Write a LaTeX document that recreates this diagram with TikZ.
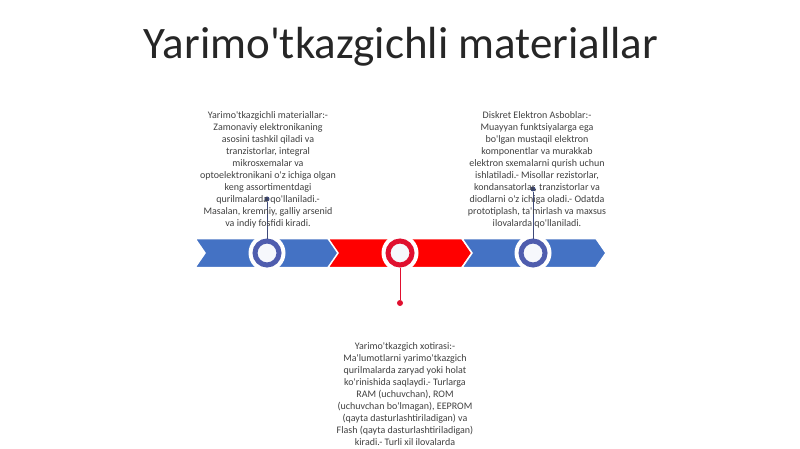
\documentclass[tikz,border=0pt]{standalone}
\usepackage{fontspec}
\newfontfamily\carlito{Carlito}
\definecolor{chevblue}{HTML}{4472C4}
\definecolor{ringblue}{HTML}{4F5DAE}
\definecolor{chevred}{HTML}{FF0000}
\definecolor{ringred}{HTML}{E0102F}
\definecolor{lineblue}{HTML}{3E4A7A}
\definecolor{txtgray}{HTML}{404040}
\begin{document}
\begin{tikzpicture}[x=1pt,y=-1pt,
    chevron/.style={draw=white, line width=1.5pt},
    halo/.style={circle, fill=white, minimum size=37pt, inner sep=0pt},
    ring/.style={circle, draw=#1, line width=5pt, fill=white!95!chevblue, minimum size=24pt, inner sep=0pt},
    pin/.style={line width=1pt, draw=#1},
    pindot/.style={circle, fill=#1, minimum size=6pt, inner sep=0pt},
    blurb/.style={align=center, text=txtgray, font=\carlito\fontsize{10}{12}\selectfont, inner sep=0pt}]
    \useasboundingbox (0,0) rectangle (800,449);
    % titel
    \node[text=black!85, font=\carlito\fontsize{45}{54}\selectfont] (titel) at (401,47) {Yarimo'tkazgichli materiallar};
    % pijlen
    \foreach \x/\col in {195/chevblue, 328/chevred, 462/chevblue}
        \draw[chevron, fill=\col] (\x,238.5) -- ++(134,0) -- ++(10,14.5) -- ++(-10,14.5) -- ++(-134,0) -- ++(10,-14.5) -- cycle;
    % cirkels
    \node[halo] (h1) at (267,253) {};
    \node[halo] (h2) at (400,253) {};
    \node[halo] (h3) at (533,253) {};
    \node[ring=ringblue] (c1) at (267,253) {};
    \node[ring=ringred] (c2) at (400,253) {};
    \node[ring=ringblue] (c3) at (533,253) {};
    % verbindingen
    \node[pindot=lineblue, minimum size=5pt] (d1) at (267,199) {};
    \node[pindot=lineblue, minimum size=5pt] (d3) at (533,189) {};
    \node[pindot=ringred] (d2) at (400,303) {};
    \draw[pin=lineblue] (c1.north) -- (d1);
    \draw[pin=lineblue] (c3.north) -- (d3);
    \draw[pin=ringred] (c2.south) -- (d2);
    % teksten
    \node[blurb, anchor=north] (t1) at (268,111) {Yarimo'tkazgichli materiallar:-\\Zamonaviy elektronikaning\\asosini tashkil qiladi va\\tranzistorlar, integral\\mikrosxemalar va\\optoelektronikani o'z ichiga olgan\\keng assortimentdagi\\qurilmalarda qo'llaniladi.-\\Masalan, kremniy, galliy arsenid\\va indiy fosfidi kiradi.};
    \node[blurb, anchor=north] (t3) at (537,111) {Diskret Elektron Asboblar:-\\Muayyan funktsiyalarga ega\\bo'lgan mustaqil elektron\\komponentlar va murakkab\\elektron sxemalarni qurish uchun\\ishlatiladi.- Misollar rezistorlar,\\kondansatorlar, tranzistorlar va\\diodlarni o'z ichiga oladi.- Odatda\\prototiplash, ta'mirlash va maxsus\\ilovalarda qo'llaniladi.};
    \node[blurb, anchor=north] (t2) at (405,342) {Yarimo'tkazgich xotirasi:-\\Ma'lumotlarni yarimo'tkazgich\\qurilmalarda zaryad yoki holat\\ko'rinishida saqlaydi.- Turlarga\\RAM (uchuvchan), ROM\\(uchuvchan bo'lmagan), EEPROM\\(qayta dasturlashtiriladigan) va\\Flash (qayta dasturlashtiriladigan)\\kiradi.- Turli xil ilovalarda};
\end{tikzpicture}
\end{document}
